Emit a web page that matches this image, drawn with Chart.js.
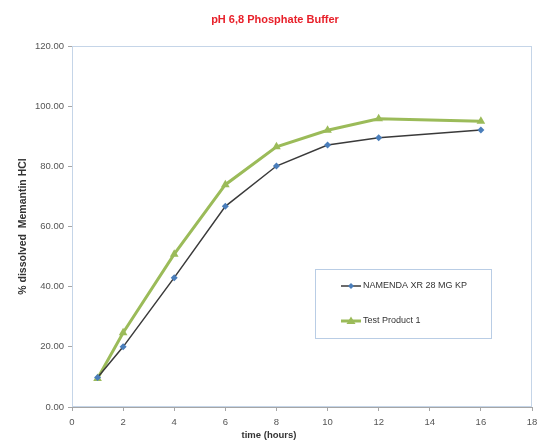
<!DOCTYPE html>
<html>
<head>
<meta charset="utf-8">
<script src="https://cdn.jsdelivr.net/npm/chart.js@4/dist/chart.umd.min.js"></script>
<style>
  html, body { margin: 0; padding: 0; background: #fff; }
  #wrap { width: 541px; height: 441px; position: relative; }
</style>
</head>
<body>
<div id="wrap"><canvas id="dissolutionChart"></canvas></div>
<script>
const timeHours = [1, 2, 4, 6, 8, 10, 12, 16];
const namendaValues = [9.8, 20.0, 43.0, 66.7, 80.1, 87.1, 89.5, 92.1];
const testProductValues = [9.5, 24.7, 50.8, 73.9, 86.5, 92.0, 95.8, 95.0];
const seriesLabels = ["NAMENDA XR 28 MG KP", "Test Product 1"];
const xTicks = [0, 2, 4, 6, 8, 10, 12, 14, 16, 18];
const yTicks = [0, 20, 40, 60, 80, 100, 120];

const FONT = '"Liberation Sans Narrow", "Liberation Sans", Arial, sans-serif';

function toPoints(xs, ys) {
  return xs.map((x, i) => ({ x: x, y: ys[i] }));
}

// frame, titles and the boxed legend inside the plot
const decorations = {
  id: 'decorations',
  beforeDatasetsDraw(chart) {
    const { ctx, chartArea: a } = chart;
    ctx.save();
    ctx.strokeStyle = '#c5d5e8';
    ctx.lineWidth = 1;
    ctx.strokeRect(a.left + 0.5, a.top + 0.5, a.right - a.left - 1, a.bottom - a.top - 1);
    ctx.restore();
  },
  afterDraw(chart) {
    const { ctx, chartArea: a } = chart;
    ctx.save();
    // title
    ctx.fillStyle = '#e8202a';
    ctx.font = 'bold 11px ' + FONT;
    ctx.textAlign = 'center';
    ctx.textBaseline = 'middle';
    ctx.fillText('pH 6,8 Phosphate Buffer', 275, 20);

    // axis titles
    ctx.fillStyle = '#333';
    ctx.font = 'bold 9.5px ' + FONT;
    ctx.fillText('time (hours)', 269, 435);
    ctx.font = 'bold 10.5px ' + FONT;
    ctx.translate(23, (a.top + a.bottom) / 2);
    ctx.rotate(-Math.PI / 2);
    ctx.fillText('% dissolved  Memantin HCl', 0, 0);
    ctx.restore();

    // legend
    ctx.save();
    ctx.fillStyle = '#fff';
    ctx.fillRect(315, 269, 176, 69);
    ctx.strokeStyle = '#b9cde5';
    ctx.lineWidth = 1;
    ctx.strokeRect(315.5, 269.5, 176, 69);
    const rows = [286, 321];
    chart.data.datasets.forEach((ds, i) => {
      const y = rows[i];
      ctx.strokeStyle = ds.borderColor;
      ctx.lineWidth = ds.borderWidth;
      ctx.beginPath();
      ctx.moveTo(341, y);
      ctx.lineTo(361, y);
      ctx.stroke();
      ctx.fillStyle = ds.pointBackgroundColor;
      ctx.beginPath();
      if (ds.pointStyle === 'triangle') {
        ctx.moveTo(351, y - 4.5);
        ctx.lineTo(355.5, y + 3);
        ctx.lineTo(346.5, y + 3);
      } else {
        ctx.moveTo(351, y - 3);
        ctx.lineTo(354, y);
        ctx.lineTo(351, y + 3);
        ctx.lineTo(348, y);
      }
      ctx.closePath();
      ctx.fill();
      ctx.fillStyle = '#333';
      ctx.font = '9px ' + FONT;
      ctx.textAlign = 'left';
      ctx.textBaseline = 'middle';
      ctx.fillText(ds.label, 363, y);
    });
    ctx.restore();
  }
};

const ctx = document.getElementById('dissolutionChart');
new Chart(ctx, {
  type: 'line',
  data: {
    datasets: [
      {
        label: seriesLabels[0],
        data: toPoints(timeHours, namendaValues),
        borderColor: '#3a3a3a',
        borderWidth: 1.5,
        pointStyle: 'rectRot',
        pointRadius: 3.5,
        pointBackgroundColor: '#4a7ebb',
        pointBorderColor: '#4a7ebb',
        pointBorderWidth: 0,
        tension: 0,
        order: 1
      },
      {
        label: seriesLabels[1],
        data: toPoints(timeHours, testProductValues),
        borderColor: '#9bbb59',
        borderWidth: 3,
        pointStyle: 'triangle',
        pointRadius: 5,
        pointBackgroundColor: '#9bbb59',
        pointBorderColor: '#9bbb59',
        pointBorderWidth: 0,
        tension: 0,
        order: 2
      }
    ]
  },
  options: {
    responsive: true,
    maintainAspectRatio: false,
    animation: false,
    layout: { padding: { top: 46, right: 9, left: 0, bottom: 0 } },
    plugins: {
      legend: { display: false },
      title: { display: false },
      tooltip: { enabled: false }
    },
    scales: {
      x: {
        type: 'linear',
        min: 0,
        max: 18,
        afterBuildTicks(scale) { scale.ticks = xTicks.map(v => ({ value: v })); },
        afterFit(scale) {
          scale.height = 34;
          scale.paddingLeft = 0;
          scale.paddingRight = 0;
        },
        grid: { drawOnChartArea: false, drawTicks: true, tickLength: 4, color: '#a6a6a6' },
        border: { color: '#a6a6a6' },
        ticks: { color: '#555', font: { family: FONT, size: 9.5 }, padding: 6, maxRotation: 0 }
      },
      y: {
        min: 0,
        max: 120,
        afterBuildTicks(scale) { scale.ticks = yTicks.map(v => ({ value: v })); },
        afterFit(scale) { scale.width = 72; },
        grid: { drawOnChartArea: false, drawTicks: true, tickLength: 4, color: '#a6a6a6' },
        border: { color: '#a6a6a6' },
        ticks: {
          color: '#555',
          font: { family: FONT, size: 9.5 },
          padding: 4,
          callback: v => v.toFixed(2)
        }
      }
    }
  },
  plugins: [decorations]
});
</script>
</body>
</html>
